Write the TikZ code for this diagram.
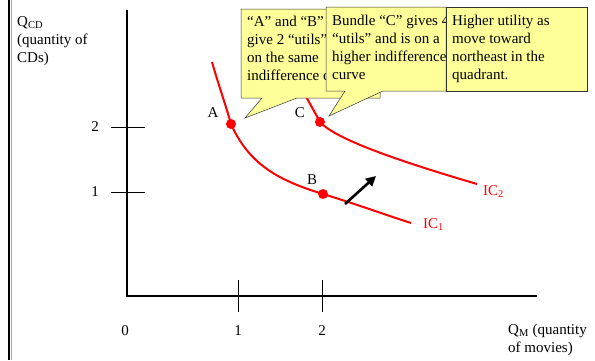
\documentclass[tikz,border=0pt]{standalone}
\usepackage{fontspec}
\setmainfont{Liberation Serif}
\usetikzlibrary{positioning,arrows.meta}
\definecolor{tyellow}{HTML}{FFFF99}
\definecolor{tred}{HTML}{FF0000}

\begin{document}
\begin{tikzpicture}[x=1pt, y=1pt, font=\fontsize{15}{18}\selectfont,
  axisline/.style={line width=2.6pt},
  tickmark/.style={line width=0.8pt},
  ic/.style={tred, line width=2pt},
  dot/.style={circle, fill=tred, inner sep=0pt, minimum size=10pt},
  bubble/.style={draw=black!80, line width=0.5pt, fill=tyellow},
  txt/.style={inner sep=0pt, align=left, anchor=north west},
  arr/.style={-{Triangle[length=10pt,width=10pt]}, line width=2.6pt}]
\useasboundingbox (0,0) rectangle (595,-360);
\draw[line width=1.8pt] (9,0) -- (9,-360);
\draw[black!35, line width=0.6pt] (11.5,0) -- (11.5,-360);

% axes
\coordinate (o) at (127,-296);
\coordinate (ytop) at (127,-10);
\coordinate (xend) at (537,-296);
\draw[axisline] (ytop) -- (o) -- (xend);
\foreach \v/\y in {1/192, 2/127} {
  \coordinate (yt\v l) at (111,-\y);
  \coordinate (yt\v r) at (145,-\y);
  \draw[tickmark] (yt\v l) -- (yt\v r);
  \node (ylab\v) at (95,-\y) {\v};
}
\foreach \v/\x in {1/238, 2/322} {
  \coordinate (xt\v t) at (\x,-280);
  \coordinate (xt\v b) at (\x,-312);
  \draw[tickmark] (xt\v t) -- (xt\v b);
  \node (xlab\v) at (\x,-331) {\v};
}
\node (xlab0) at (125,-331) {0};
\node[txt] (qcd) at (17,-16) {Q\textsubscript{CD}\\(quantity of\\CDs)};
\node[txt] (qm) at (508,-324) {Q\textsubscript{M} (quantity\\of movies)};

% indifference curves
\node[dot] (ptA) at (231,-124) {};
\node[dot] (ptB) at (323,-194) {};
\node[dot] (ptC) at (320,-122) {};
\coordinate (ic1s) at (212,-62);
\coordinate (ic1e) at (411,-223);
\coordinate (ic2s) at (292,-70);
\coordinate (ic2e) at (477,-184);
\draw[ic] (ic1s) to[out=-74,in=106] (ptA.center) to[out=-66,in=163] (ptB.center) to[out=-17,in=162] (ic1e);
\draw[ic] (ic2s) to[out=-64,in=118] (ptC.center) .. controls +(-48:25) and +(-68,20) .. (ic2e);
\node (lA) at (213,-113) {A};
\node (lB) at (312,-180) {B};
\node (lC) at (300,-113) {C};
\node[tred, anchor=base west, inner sep=0pt] (lic1) at (423,-228) {IC\textsubscript{1}};
\node[tred, anchor=base west, inner sep=0pt] (lic2) at (483,-195) {IC\textsubscript{2}};
\coordinate (mvs) at (345,-204);
\coordinate (mve) at (376,-176);
\draw[arr] (mvs) -- (mve);

% callouts
\draw[bubble] (241,-9) -- (380,-9) -- (380,-98) -- (297,-98) -- (245,-118) -- (262,-98) -- (241,-98) -- cycle;
\node[txt] (t1) at (247,-16) {“A” and “B”\\give 2 “utils”\\on the same\\indifference curve};
\draw[bubble] (326,-7) -- (446,-7) -- (446,-91) -- (383,-91) -- (329,-116) -- (345,-91) -- (326,-91) -- cycle;
\node[txt] (t2) at (332,-15) {Bundle “C” gives 4\\“utils” and is on a\\higher indifference\\curve};
\draw[bubble] (446,-7) rectangle (587,-91);
\node[txt] (t3) at (452,-15) {Higher utility as\\move toward\\northeast in the\\quadrant.};
\end{tikzpicture}
\end{document}
